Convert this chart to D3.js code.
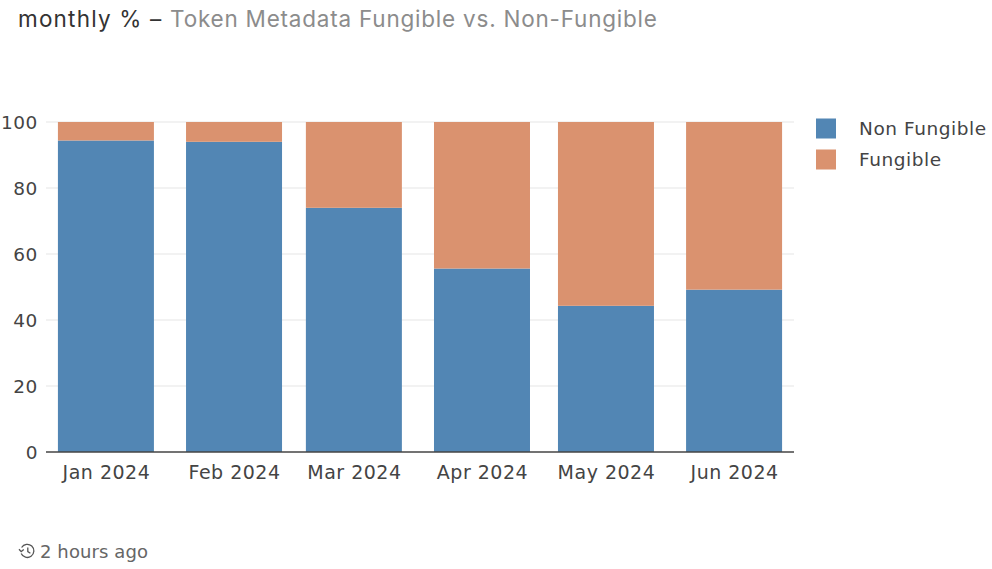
<!DOCTYPE html>
<html><head><meta charset="utf-8">
<script src="https://cdn.jsdelivr.net/npm/d3@7/dist/d3.min.js"></script>
<style>html,body{margin:0;padding:0;background:#fff;overflow:hidden}svg{display:block}</style>
</head><body><svg id="c" width="992" height="569"></svg>
<script>
const months = ["2024-01-01","2024-02-01","2024-03-01","2024-04-01","2024-05-01","2024-06-01"];
const nonFungible = [94.4, 94.0, 74.0, 55.6, 44.3, 49.2];
const fungible = [5.6, 6.0, 26.0, 44.4, 55.7, 50.8];
const seriesNames = ["Non Fungible", "Fungible"];
const seriesColors = ["#5286b4", "#da926f"];
const yTicks = [0, 20, 40, 60, 80, 100];
const titleMain = "monthly % \u2013 ";
const titleSub = "Token Metadata Fungible vs. Non-Fungible";
const footer = "2 hours ago";

const labelFont = "'DejaVu Sans', sans-serif";
const svg = d3.select("#c");
const dates = months.map(d => new Date(d + "T00:00:00Z"));
const x = d3.scaleUtc()
  .domain([new Date("2023-12-17T12:00:00Z"), new Date("2024-06-15T12:00:00Z")])
  .range([46, 794]);
const y = d3.scaleLinear().domain([0, 100]).range([452, 122]);
const barW = 96;

// title
const t = svg.append("text").attr("x", 18).attr("y", 27)
  .style("font-family", "Inter, sans-serif").style("font-size", "22.5px");
t.append("tspan").attr("fill", "#333").style("letter-spacing", "1.2px").text(titleMain);
t.append("tspan").attr("fill", "#8c8c8c").style("letter-spacing", "0.78px").text(titleSub);

// grid
svg.append("g").selectAll("line").data(yTicks.filter(d => d > 0)).join("line")
  .attr("x1", 46).attr("x2", 794)
  .attr("y1", d => y(d)).attr("y2", d => y(d))
  .attr("stroke", "#eeeeee").attr("stroke-width", 1.5);

// stacked bars
const rows = dates.map((d, i) => ({date: d, nf: nonFungible[i], f: fungible[i]}));
const stack = d3.stack().keys(["nf", "f"])(rows);
svg.append("g").selectAll("g").data(stack).join("g")
  .attr("fill", (d, i) => seriesColors[i])
  .selectAll("rect").data(d => d).join("rect")
  .attr("x", d => x(d.data.date) - barW / 2)
  .attr("width", barW)
  .attr("y", d => y(d[1]))
  .attr("height", d => y(d[0]) - y(d[1]));

// y axis labels
const yAxis = d3.axisLeft(y).tickValues(yTicks).tickSize(0).tickPadding(8);
const yg = svg.append("g").attr("transform", "translate(46,0)").call(yAxis);
yg.select(".domain").remove();
yg.selectAll("text").attr("fill", "#444").attr("dy", "0.36em")
  .style("font-family", labelFont).style("font-size", "18.5px").style("letter-spacing", "0.6px");

// x axis
const fmt = d3.utcFormat("%b %Y");
const xAxis = d3.axisBottom(x).tickValues(dates).tickFormat(fmt).tickSize(0).tickPadding(14);
const xg = svg.append("g").attr("transform", "translate(0,452)").call(xAxis);
xg.select(".domain").attr("stroke", "#444").attr("stroke-width", 1.5).attr("d", "M46,0H794");
xg.selectAll("text").attr("fill", "#444")
  .style("font-family", labelFont).style("font-size", "19px").style("letter-spacing", "0.5px");

// legend
const lg = svg.append("g").selectAll("g").data(seriesNames).join("g")
  .attr("transform", (d, i) => `translate(816,${118.5 + i * 31})`);
lg.append("rect").attr("width", 20).attr("height", 20).attr("fill", (d, i) => seriesColors[i]);
lg.append("text").attr("x", 43).attr("y", 10).attr("dy", "0.36em").attr("fill", "#444")
  .style("font-family", labelFont).style("font-size", "18.5px").style("letter-spacing", "0.55px").text(d => d);

// footer icon (clock with history arrow)
const ic = svg.append("g").attr("transform", "translate(19,543)")
  .attr("fill", "none").attr("stroke", "#555").attr("stroke-width", 1.3);
ic.append("path").attr("d", "M2.6,4.5 A6.6,6.6 0 1 1 2.2,10.5");
ic.append("path").attr("d", "M0,6.2 L2.2,8.6 L4.8,6.4");
ic.append("path").attr("d", "M8.8,4.5 V8.6 L11.4,10.2");

svg.append("text").attr("x", 40).attr("y", 558).attr("fill", "#666")
  .style("font-family", labelFont).style("font-size", "18px").style("letter-spacing", "0.1px").text(footer);
</script></body></html>
